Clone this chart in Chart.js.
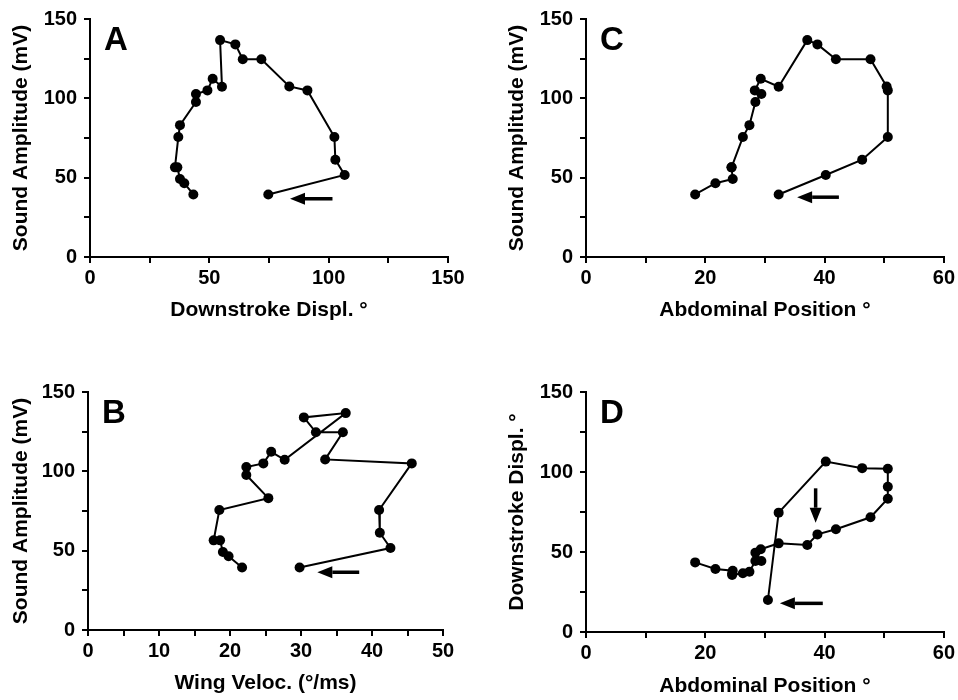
<!DOCTYPE html>
<html>
<head>
<meta charset="utf-8">
<script src="https://cdn.jsdelivr.net/npm/chart.js@4"></script>
<style>
  body { margin: 0; background: #fff; }
  #wrap { position: relative; width: 958px; height: 700px; }
  #wrap canvas { position: absolute; }
</style>
</head>
<body>
<div id="wrap">
  <canvas id="panelA" width="479" height="350" style="left:0;top:0"></canvas>
  <canvas id="panelB" width="479" height="327" style="left:0;top:373px"></canvas>
  <canvas id="panelC" width="479" height="350" style="left:479px;top:0"></canvas>
  <canvas id="panelD" width="479" height="327" style="left:479px;top:373px"></canvas>
</div>
<script>
// values, one trajectory per panel
var amplitude = [39.4, 46.5, 49.2, 56.5, 56.5, 75.6, 83.1, 97.7, 102.7, 105, 112.3, 107.3, 136.7, 134, 124.6, 124.6, 107.5, 105, 75.6, 61.3, 51.7, 39.4];
var downstrokeA = [43.3, 39.5, 37.7, 36.6, 35.6, 37.0, 37.7, 44.4, 44.4, 49.2, 51.4, 55.3, 54.5, 60.9, 64.0, 71.8, 83.5, 91.1, 102.4, 102.8, 106.7, 74.7];
var wingVeloc = [21.7, 19.8, 19.0, 18.6, 17.7, 18.5, 25.4, 22.3, 22.3, 24.7, 25.8, 27.7, 36.3, 30.4, 32.1, 35.9, 33.4, 45.6, 41.0, 41.1, 42.6, 29.8];
var abdominalC = [18.3, 21.7, 24.6, 24.4, 24.4, 26.3, 27.4, 28.4, 29.4, 28.3, 29.3, 32.3, 37.1, 38.8, 41.9, 47.7, 50.4, 50.6, 50.6, 46.3, 40.2, 32.3];
var abdominalD = [18.3, 21.7, 24.6, 24.5, 24.5, 26.3, 27.4, 28.4, 29.4, 28.4, 29.3, 32.3, 37.1, 38.8, 41.9, 47.7, 50.6, 50.6, 50.6, 46.3, 40.2, 32.3, 30.5];
var downstrokeD = [43.5, 39.4, 38.3, 36.6, 35.6, 36.7, 37.7, 44.4, 44.4, 49.6, 51.7, 55.4, 54.4, 61.0, 64.2, 71.7, 83.3, 90.8, 102.0, 102.4, 106.5, 74.6, 20.0];

// arrows in data units: [x1, y1, x2, y2] (head at x2,y2)
var arrowsA = [[101.6, 36.7, 83.8, 36.7]];
var arrowsB = [[38.2, 36.4, 32.3, 36.4]];
var arrowsC = [[42.4, 37.7, 35.4, 37.7]];
var arrowsD = [[39.7, 17.9, 32.5, 17.9], [38.5, 89.8, 38.5, 68.3]];

var FONT = "'Liberation Sans', Arial, sans-serif";

var decorPlugin = {
  id: 'decor',
  afterDatasetsDraw: function (chart, args, opts) {
    var ctx = chart.ctx, xs = chart.scales.x, ys = chart.scales.y, ca = chart.chartArea;
    ctx.save();
    ctx.fillStyle = '#000';
    ctx.strokeStyle = '#000';
    ctx.lineWidth = 3.5;
    (opts.arrows || []).forEach(function (a) {
      var x1 = xs.getPixelForValue(a[0]), y1 = ys.getPixelForValue(a[1]);
      var x2 = xs.getPixelForValue(a[2]), y2 = ys.getPixelForValue(a[3]);
      var ang = Math.atan2(y2 - y1, x2 - x1), head = 15, half = 6;
      var bx = x2 - head * Math.cos(ang), by = y2 - head * Math.sin(ang);
      ctx.beginPath();
      ctx.moveTo(x1, y1);
      ctx.lineTo(bx, by);
      ctx.stroke();
      ctx.beginPath();
      ctx.moveTo(x2, y2);
      ctx.lineTo(bx + half * Math.sin(ang), by - half * Math.cos(ang));
      ctx.lineTo(bx - half * Math.sin(ang), by + half * Math.cos(ang));
      ctx.closePath();
      ctx.fill();
    });
    ctx.font = 'bold 33px ' + FONT;
    ctx.textAlign = 'left';
    ctx.textBaseline = 'alphabetic';
    ctx.fillText(opts.letter, ca.left + 14, ca.top + 31);
    ctx.restore();
  }
};

function makePanel(id, xs, ys, cfg) {
  var tickFont = { family: FONT, size: 20, weight: 'bold' };
  var titleFont = { family: FONT, size: 21, weight: 'bold' };
  var pts = xs.map(function (x, i) { return { x: x, y: ys[i] }; });
  return new Chart(document.getElementById(id), {
    type: 'scatter',
    data: {
      datasets: [{
        data: pts,
        showLine: true,
        borderColor: '#000',
        borderWidth: 2,
        backgroundColor: '#000',
        pointRadius: 5,
        pointBorderWidth: 0,
        pointHoverRadius: 5
      }]
    },
    plugins: [decorPlugin],
    options: {
      responsive: false,
      animation: false,
      layout: { padding: cfg.padding },
      plugins: {
        legend: { display: false },
        tooltip: { enabled: false },
        decor: { arrows: cfg.arrows, letter: cfg.letter }
      },
      scales: {
        x: {
          type: 'linear',
          min: cfg.xMax[0], max: cfg.xMax[1],
          afterFit: function (s) { s.height = cfg.xH; },
          grid: { drawOnChartArea: false, drawTicks: true, tickLength: 6, color: '#000', lineWidth: 2 },
          border: { display: true, color: '#000', width: 2 },
          ticks: {
            stepSize: cfg.xStep, autoSkip: false, maxRotation: 0, color: '#000', font: tickFont, padding: 3,
            callback: function (v) { return v % cfg.xLab === 0 ? String(v) : ''; }
          },
          title: { display: true, text: cfg.xTitle, color: '#000', font: titleFont, padding: { top: 0, bottom: cfg.xTitlePad } }
        },
        y: {
          type: 'linear',
          min: 0, max: 150,
          afterFit: function (s) { s.width = cfg.yW; },
          grid: { drawOnChartArea: false, drawTicks: true, tickLength: 6, color: '#000', lineWidth: 2 },
          border: { display: true, color: '#000', width: 2 },
          ticks: {
            stepSize: 25, autoSkip: false, color: '#000', font: tickFont, padding: 7,
            callback: function (v) { return v % 50 === 0 ? String(v) : ''; }
          },
          title: { display: true, text: cfg.yTitle, color: '#000', font: titleFont, padding: { top: cfg.yTitlePad, bottom: 0 } }
        }
      }
    }
  });
}

makePanel('panelA', downstrokeA, amplitude, {
  letter: 'A', arrows: arrowsA,
  padding: { top: 17, right: 31, left: 0, bottom: 0 },
  xMax: [0, 150], xStep: 25, xLab: 50, xH: 93, yW: 90, xTitlePad: 27, yTitlePad: 9,
  xTitle: 'Downstroke Displ. °', yTitle: 'Sound Amplitude (mV)'
});
makePanel('panelB', wingVeloc, amplitude, {
  letter: 'B', arrows: arrowsB,
  padding: { top: 17, right: 36, left: 0, bottom: 0 },
  xMax: [0, 50], xStep: 5, xLab: 10, xH: 70, yW: 88, xTitlePad: 4, yTitlePad: 9,
  xTitle: 'Wing Veloc. (°/ms)', yTitle: 'Sound Amplitude (mV)'
});
makePanel('panelC', abdominalC, amplitude, {
  letter: 'C', arrows: arrowsC,
  padding: { top: 17, right: 12, left: 0, bottom: 0 },
  xMax: [0, 60], xStep: 10, xLab: 20, xH: 93, yW: 107, xTitlePad: 27, yTitlePad: 26,
  xTitle: 'Abdominal Position °', yTitle: 'Sound Amplitude (mV)'
});
makePanel('panelD', abdominalD, downstrokeD, {
  letter: 'D', arrows: arrowsD,
  padding: { top: 19, right: 12, left: 0, bottom: 0 },
  xMax: [0, 60], xStep: 10, xLab: 20, xH: 68, yW: 107, xTitlePad: 1, yTitlePad: 26,
  xTitle: 'Abdominal Position °', yTitle: 'Downstroke Displ. °'
});
</script>
</body>
</html>
